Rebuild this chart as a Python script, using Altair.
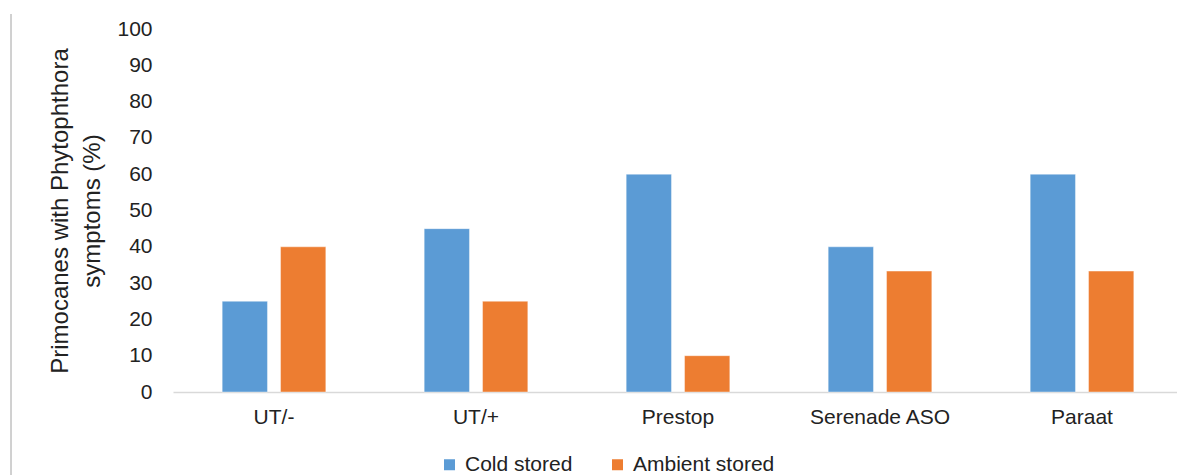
import altair as alt
import pandas as pd

treatments = ["UT/-", "UT/+", "Prestop", "Serenade ASO", "Paraat"]
series = ["Cold stored", "Ambient stored"]
cold_values = [25, 45, 60, 40, 60]
ambient_values = [40, 25, 10, 33.3, 33.3]
colors = ["#5B9BD5", "#ED7D31"]
y_ticks = [0, 10, 20, 30, 40, 50, 60, 70, 80, 90, 100]

rows = []
for t, c, a in zip(treatments, cold_values, ambient_values):
    rows.append({"Treatment": t, "Storage": series[0], "Value": c})
    rows.append({"Treatment": t, "Storage": series[1], "Value": a})
df = pd.DataFrame(rows)

FONT = "Liberation Sans"

bars = alt.Chart(df).mark_bar(stroke="#ffffff", strokeWidth=0.8, strokeOpacity=0.5).encode(
    x=alt.X("Treatment:N", sort=treatments,
            scale=alt.Scale(paddingInner=0, paddingOuter=0, range=[0, 1010]),
            axis=alt.Axis(title=None, labelAngle=0, ticks=False, domainColor="#d9d9d9",
                          domainWidth=1.3, labelFont=FONT, labelFontSize=21,
                          labelColor="#222222", labelPadding=14)),
    xOffset=alt.XOffset("Storage:N", sort=series,
                        scale=alt.Scale(paddingInner=0.224, paddingOuter=0.843)),
    y=alt.Y("Value:Q", scale=alt.Scale(domain=[0, 100], nice=False),
            axis=alt.Axis(values=y_ticks, grid=False, domain=False, ticks=False,
                          title=["Primocanes with Phytophthora", "symptoms (%)"],
                          titleFont=FONT, titleFontSize=24, titleFontWeight="normal",
                          titleColor="#222222", titlePadding=12, titleLineHeight=32,
                          labelFont=FONT, labelFontSize=21, labelColor="#222222",
                          labelPadding=21)),
    color=alt.Color("Storage:N", sort=series,
                    scale=alt.Scale(domain=series, range=colors),
                    legend=alt.Legend(title=None, orient="none", direction="horizontal",
                                      legendX=266, legendY=425, symbolType="square",
                                      symbolSize=121, symbolStrokeWidth=0,
                                      labelFont=FONT, labelFontSize=21,
                                      labelColor="#222222", labelOffset=5,
                                      columnPadding=34)),
)

border = alt.Chart(df).mark_rule(color="#d0d0d0", strokeWidth=1.2).encode(
    x=alt.value(-162), y=alt.value(-15), y2=alt.value(446)
)

chart = alt.layer(border, bars).properties(
    width=1004, height=363,
    background="#ffffff",
    autosize=alt.AutoSizeParams(type="none"),
    padding={"left": 173, "top": 29, "right": 0, "bottom": 83},
).configure_view(stroke=None, strokeWidth=0)

chart.save("out.html", embed_options={"renderer": "svg", "actions": False})
